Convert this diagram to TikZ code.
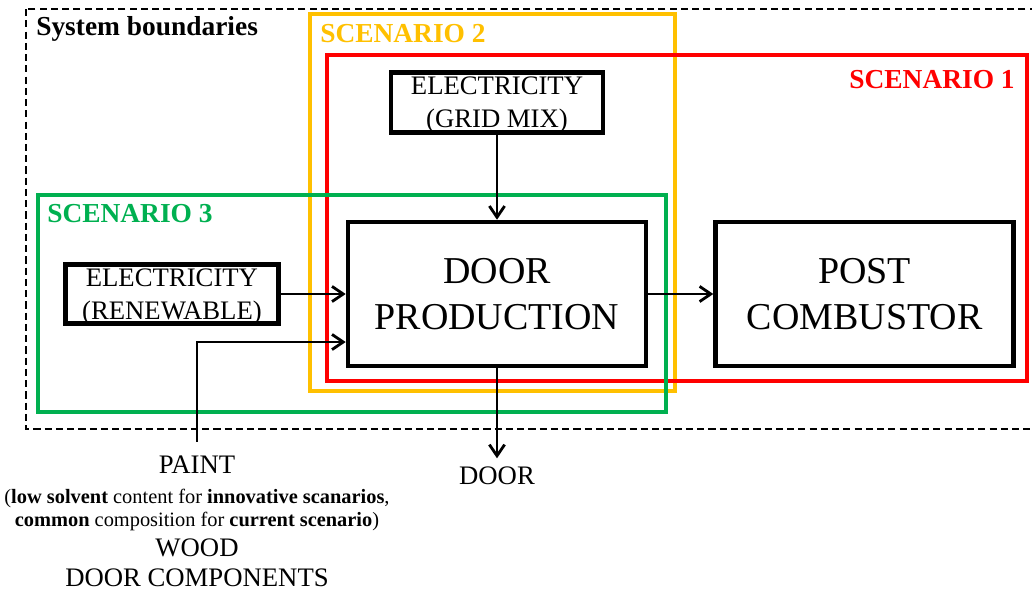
\documentclass[tikz,border=0pt]{standalone}
\usepackage{fontspec}
\setmainfont{Liberation Serif}
\usetikzlibrary{arrows.meta,positioning}
\definecolor{scenone}{RGB}{255,0,0}
\definecolor{scentwo}{RGB}{255,192,0}
\definecolor{scenthree}{RGB}{0,176,80}
\tikzset{
  box/.style={draw, line width=3.2pt, fill=white, align=center, inner sep=0pt, text depth=0pt, font=\fontsize{19}{23.4}\selectfont},
  mainbox/.style={box, minimum width=7.45cm, minimum height=3.6cm, font=\fontsize{27}{32.6}\selectfont},
  flow/.style={-{Straight Barb[length=2.8mm,width=3.8mm]}, line width=2pt},
  frame/.style={line width=2.2pt},
  tag/.style={font=\fontsize{19.5}{23}\selectfont\bfseries, inner sep=0pt, anchor=base west},
  note/.style={align=center, inner sep=6pt, font=\fontsize{19}{23}\selectfont}
}
\begin{document}
\begin{tikzpicture}[x=0.025cm, y=-0.025cm, node distance=2.125cm and 1.625cm]
\useasboundingbox (0,0) rectangle (1032,593);
% boundaries and scenarios
\draw[line width=1.2pt, dash pattern=on 5pt off 3pt] (26,9) rectangle (1045,429);
\draw[frame, draw=scentwo] (310,14) rectangle (675,391);
\draw[frame, draw=scenone] (327,55) rectangle (1027,381);
\draw[frame, draw=scenthree] (38,195) rectangle (666,412);
\node[tag] (sysb) at (36,35) {System boundaries};
\node[tag, text=scentwo] (scen2) at (320,42) {SCENARIO 2};
\node[tag, text=scenone, anchor=base east] (scen1) at (1015,88) {SCENARIO 1};
\node[tag, text=scenthree] (scen3) at (47,222) {SCENARIO 3};
% processes
\node[mainbox] (prod) at (497,294) {DOOR\\PRODUCTION};
\node[mainbox, right=of prod] (post) {POST\\COMBUSTOR};
\node[box, minimum width=5.3cm, minimum height=1.5cm, above=of prod] (grid) {ELECTRICITY\\(GRID MIX)};
\node[box, minimum width=5.325cm, minimum height=1.475cm, left=of prod] (renew) {ELECTRICITY\\(RENEWABLE)};
% inputs and output
\node[note, inner sep=10pt] (paint) at (197,465) {PAINT};
\node[note, inner sep=0pt, font=\fontsize{14.5}{17}\selectfont] (paintnote) at (197,510) {(\textbf{low solvent} content for \textbf{innovative scanarios},\\\textbf{common} composition for \textbf{current scenario})};
\node[note, inner sep=0pt] (wood) at (197,548) {WOOD};
\node[note, inner sep=0pt] (parts) at (197,578) {DOOR COMPONENTS};
\node[note] (door) at (497,476) {DOOR};
\draw[flow] (grid) -- (prod);
\draw[flow] (renew) -- (prod);
\draw[flow] (paint.north) |- ([yshift=-1.2cm]prod.west);
\draw[flow] (prod) -- (post);
\draw[flow] (prod) -- (door);
\end{tikzpicture}
\end{document}
